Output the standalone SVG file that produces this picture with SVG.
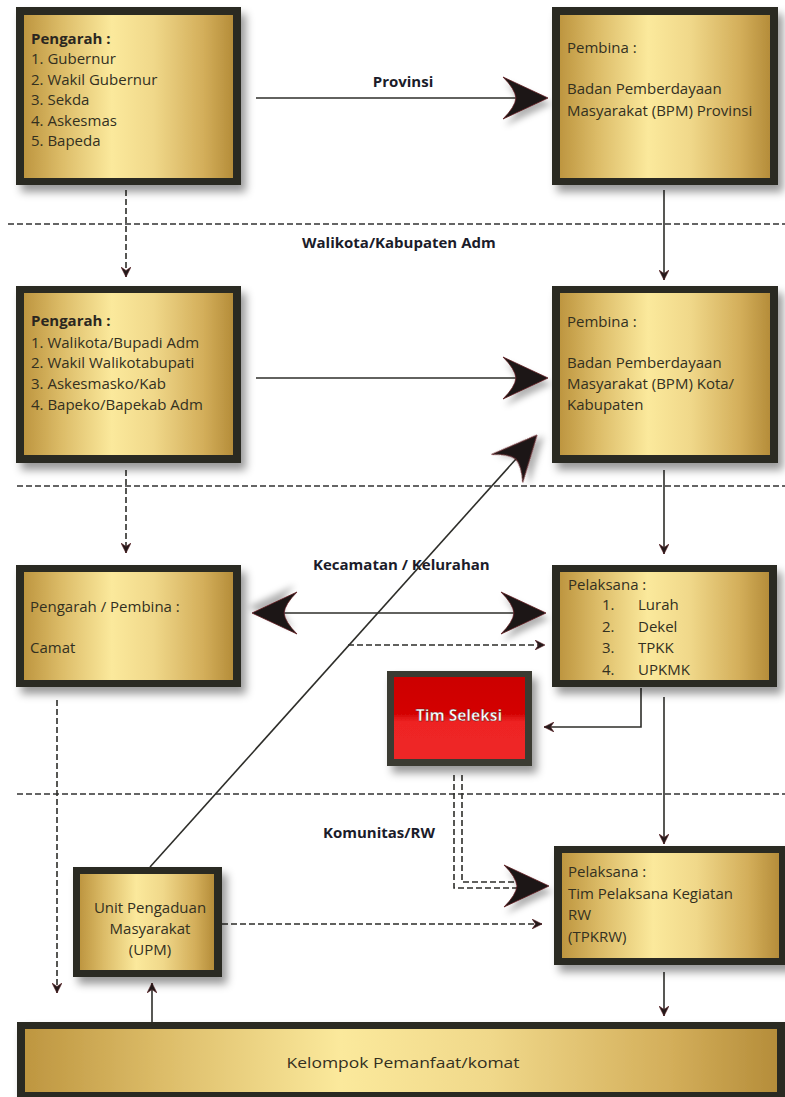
<svg xmlns="http://www.w3.org/2000/svg" width="785" height="1097" viewBox="0 0 785 1097">
<defs>
  <linearGradient id="gold" x1="0" y1="0" x2="1" y2="0">
    <stop offset="0" stop-color="#be9640"/>
    <stop offset="0.18" stop-color="#dcbc68"/>
    <stop offset="0.42" stop-color="#fbe99c"/>
    <stop offset="0.62" stop-color="#f0d88a"/>
    <stop offset="0.86" stop-color="#d3ae5a"/>
    <stop offset="1" stop-color="#b58d3a"/>
  </linearGradient>
  <linearGradient id="red" x1="0" y1="0" x2="0" y2="1">
    <stop offset="0" stop-color="#cc0000"/>
    <stop offset="0.45" stop-color="#d40404"/>
    <stop offset="0.55" stop-color="#ee2424"/>
    <stop offset="1" stop-color="#ee2626"/>
  </linearGradient>
  <filter id="sh" x="-20%" y="-20%" width="150%" height="150%">
    <feDropShadow dx="5" dy="7" stdDeviation="4" flood-color="#000" flood-opacity="0.4"/>
  </filter>
  <filter id="ash" x="-50%" y="-50%" width="200%" height="200%">
    <feDropShadow dx="3" dy="6" stdDeviation="3" flood-color="#000" flood-opacity="0.3"/>
  </filter>
  <marker id="sm" viewBox="0 0 10 10" refX="10" refY="5" markerWidth="10" markerHeight="10" markerUnits="userSpaceOnUse" orient="auto">
    <path d="M0,0 L10,5 L0,10 L3.5,5 Z" fill="#231a1a" stroke="#5a1e22" stroke-width="0.6"/>
  </marker>
  <path id="big" d="M0,0 L-45,-21 Q-33,-9 -32,0 Q-33,9 -45,21 Z"/>
  <style>
    .frame{fill:#2b2c22}
    .gold{fill:url(#gold)}
    .t{font-family:"Open Sans","Liberation Sans",sans-serif;font-size:15px;fill:#33301f}
    .b{font-family:"Open Sans","Liberation Sans",sans-serif;font-size:15px;font-weight:bold;fill:#2a2620}
    .lbl{font-family:"Open Sans","Liberation Sans",sans-serif;font-size:15px;font-weight:bold;fill:#1b1c2a}
    .ln{stroke:#2e2e2a;stroke-width:1.6;fill:none}
    .dl{stroke:#2e2e2a;stroke-width:1.6;fill:none;stroke-dasharray:6 3}
    .sep{stroke:#333;stroke-width:1.4;fill:none;stroke-dasharray:6 3}
    .head{fill:#1a1515;stroke:#5e1c20;stroke-width:0.8}
  </style>
</defs>
<rect width="785" height="1097" fill="#ffffff"/>

<g id="separators">
  <line class="sep" x1="8" y1="224" x2="785" y2="224"/>
  <line class="sep" x1="17" y1="486" x2="785" y2="486"/>
  <line class="sep" x1="17" y1="794" x2="785" y2="794"/>
  <text class="lbl" x="403" y="87" text-anchor="middle">Provinsi</text>
  <text class="lbl" x="302" y="248">Walikota/Kabupaten Adm</text>
  <text class="lbl" x="313" y="570">Kecamatan / Kelurahan</text>
  <text class="lbl" x="323" y="838">Komunitas/RW</text>
</g>

<g id="connectors">
  <line class="ln" x1="256" y1="98" x2="518" y2="98"/>
  <use href="#big" class="head" filter="url(#ash)" transform="translate(548,98)"/>
  <line class="ln" x1="256" y1="378" x2="518" y2="378"/>
  <use href="#big" class="head" filter="url(#ash)" transform="translate(548,378)"/>
  <line class="dl" x1="126" y1="190" x2="126" y2="277" marker-end="url(#sm)"/>
  <line class="ln" x1="664" y1="190" x2="664" y2="280" marker-end="url(#sm)"/>
  <line class="dl" x1="126" y1="470" x2="126" y2="553" marker-end="url(#sm)"/>
  <line class="ln" x1="664" y1="470" x2="664" y2="554" marker-end="url(#sm)"/>
  <line class="ln" x1="280" y1="613" x2="518" y2="613"/>
  <use href="#big" class="head" filter="url(#ash)" transform="translate(252,613) rotate(180)"/>
  <use href="#big" class="head" filter="url(#ash)" transform="translate(546,613)"/>
  <line class="dl" x1="348" y1="645" x2="545" y2="645" marker-end="url(#sm)"/>
  <polyline class="ln" points="641,688 641,727 544,727" marker-end="url(#sm)"/>
  <line class="ln" x1="664" y1="697" x2="664" y2="844" marker-end="url(#sm)"/>
  <polyline class="dl" points="454,775 454,888 520,888"/>
  <polyline class="dl" points="462,775 462,882 520,882"/>
  <use href="#big" class="head" filter="url(#ash)" transform="translate(549,886)"/>
  <line class="dl" x1="57" y1="700" x2="57" y2="993" marker-end="url(#sm)"/>
  <line class="dl" x1="222" y1="924" x2="542" y2="924" marker-end="url(#sm)"/>
  <line class="ln" x1="152" y1="1022" x2="152" y2="983" marker-end="url(#sm)"/>
  <line class="ln" x1="664" y1="972" x2="664" y2="1016" marker-end="url(#sm)"/>
  <line class="ln" x1="150" y1="867" x2="516" y2="459"/>
  <use href="#big" class="head" filter="url(#ash)" transform="translate(537,435) rotate(-48.2)"/>
</g>

<g id="n1" filter="url(#sh)">
  <rect class="frame" x="16" y="7" width="225" height="178"/>
  <rect class="gold" x="24" y="15" width="209" height="163"/>
</g>
<g id="n1t">
  <text class="b" x="31" y="44">Pengarah :</text>
  <text class="t" x="31" y="64">1. Gubernur</text>
  <text class="t" x="31" y="85">2. Wakil Gubernur</text>
  <text class="t" x="31" y="105">3. Sekda</text>
  <text class="t" x="31" y="126">4. Askesmas</text>
  <text class="t" x="31" y="146">5. Bapeda</text>
</g>

<g id="n2" filter="url(#sh)">
  <rect class="frame" x="552" y="7" width="226" height="178"/>
  <rect class="gold" x="560" y="15" width="210" height="163"/>
</g>
<g id="n2t">
  <text class="t" x="567" y="53">Pembina :</text>
  <text class="t" x="567" y="94">Badan Pemberdayaan</text>
  <text class="t" x="567" y="116">Masyarakat (BPM) Provinsi</text>
</g>

<g id="n3" filter="url(#sh)">
  <rect class="frame" x="16" y="286" width="225" height="177"/>
  <rect class="gold" x="24" y="293" width="209" height="162"/>
</g>
<g id="n3t">
  <text class="b" x="31" y="326">Pengarah :</text>
  <text class="t" x="31" y="348">1. Walikota/Bupadi Adm</text>
  <text class="t" x="31" y="368">2. Wakil Walikotabupati</text>
  <text class="t" x="31" y="389">3. Askesmasko/Kab</text>
  <text class="t" x="31" y="410">4. Bapeko/Bapekab Adm</text>
</g>

<g id="n4" filter="url(#sh)">
  <rect class="frame" x="552" y="286" width="226" height="177"/>
  <rect class="gold" x="560" y="293" width="210" height="162"/>
</g>
<g id="n4t">
  <text class="t" x="567" y="327">Pembina :</text>
  <text class="t" x="567" y="368">Badan Pemberdayaan</text>
  <text class="t" x="567" y="389">Masyarakat (BPM) Kota/</text>
  <text class="t" x="567" y="410">Kabupaten</text>
</g>

<g id="n5" filter="url(#sh)">
  <rect class="frame" x="16" y="565" width="225" height="122"/>
  <rect class="gold" x="24" y="572" width="209" height="108"/>
</g>
<g id="n5t">
  <text class="t" x="30" y="612">Pengarah / Pembina :</text>
  <text class="t" x="30" y="653">Camat</text>
</g>

<g id="n6" filter="url(#sh)">
  <rect class="frame" x="552" y="565" width="225" height="122"/>
  <rect class="gold" x="560" y="572" width="209" height="108"/>
</g>
<g id="n6t">
  <text class="t" x="568" y="590">Pelaksana :</text>
  <text class="t" x="602" y="610">1.</text><text class="t" x="638" y="610">Lurah</text>
  <text class="t" x="602" y="632">2.</text><text class="t" x="638" y="632">Dekel</text>
  <text class="t" x="602" y="653">3.</text><text class="t" x="638" y="653">TPKK</text>
  <text class="t" x="602" y="675">4.</text><text class="t" x="638" y="675">UPKMK</text>
</g>

<g id="n7" filter="url(#sh)">
  <rect fill="#3a3b30" x="387" y="671" width="145" height="95"/>
  <rect fill="url(#red)" x="394" y="677" width="131" height="82"/>
</g>
<g id="n7t">
  <text x="459" y="721" text-anchor="middle" font-family="'Open Sans','Liberation Sans',sans-serif" font-size="15.5" font-weight="bold" fill="#ffffff" stroke="#5a1010" stroke-width="0.4">Tim Seleksi</text>
</g>

<g id="n8" filter="url(#sh)">
  <rect class="frame" x="73" y="867" width="149" height="110"/>
  <rect class="gold" x="80" y="874" width="134" height="96"/>
</g>
<g id="n8t">
  <text class="t" x="150" y="913" text-anchor="middle">Unit Pengaduan</text>
  <text class="t" x="150" y="934" text-anchor="middle">Masyarakat</text>
  <text class="t" x="150" y="955" text-anchor="middle">(UPM)</text>
</g>

<g id="n9" filter="url(#sh)">
  <rect class="frame" x="554" y="846" width="240" height="119"/>
  <rect class="gold" x="562" y="853" width="217" height="105"/>
</g>
<g id="n9t">
  <text class="t" x="568" y="877">Pelaksana :</text>
  <text class="t" x="568" y="899">Tim Pelaksana Kegiatan</text>
  <text class="t" x="568" y="920">RW</text>
  <text class="t" x="568" y="942">(TPKRW)</text>
</g>

<g id="n10" filter="url(#sh)">
  <rect class="frame" x="17" y="1022" width="780" height="85"/>
  <rect class="gold" x="25" y="1029" width="752" height="63"/>
</g>
<g id="n10t">
  <text class="t" x="403" y="1068" text-anchor="middle" font-size="17" textLength="233" lengthAdjust="spacingAndGlyphs">Kelompok Pemanfaat/komat</text>
</g>
</svg>
